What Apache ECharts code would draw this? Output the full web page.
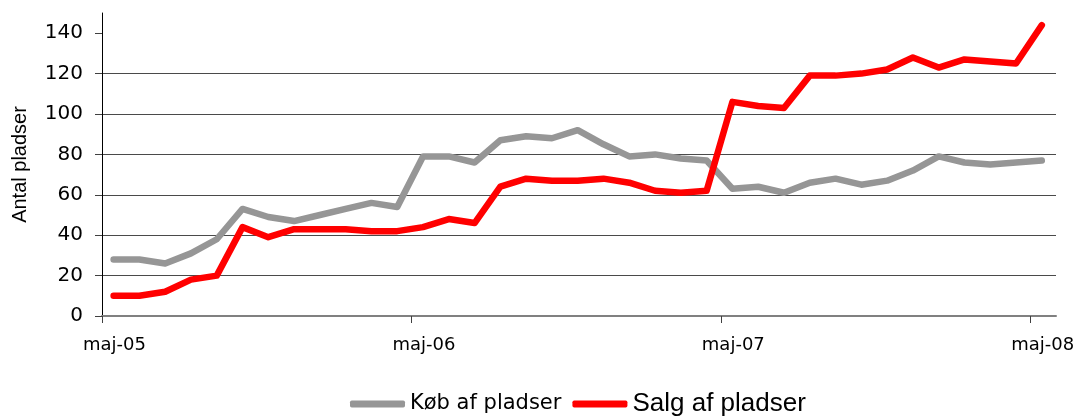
<!DOCTYPE html>
<html>
<head>
<meta charset="utf-8">
<script src="https://cdn.jsdelivr.net/npm/echarts@6/dist/echarts.min.js"></script>
<style>
html,body{margin:0;padding:0;background:#fff;}
#chart{width:1078px;height:416px;}
</style>
</head>
<body>
<div id="chart"></div>
<script>
// Monthly observations, maj-05 .. maj-08
const months = ['2005-05','2005-06','2005-07','2005-08','2005-09','2005-10','2005-11','2005-12',
  '2006-01','2006-02','2006-03','2006-04','2006-05','2006-06','2006-07','2006-08','2006-09','2006-10',
  '2006-11','2006-12','2007-01','2007-02','2007-03','2007-04','2007-05','2007-06','2007-07','2007-08',
  '2007-09','2007-10','2007-11','2007-12','2008-01','2008-02','2008-03','2008-04','2008-05'];
const kob  = [28,28,26,31,38,53,49,47,50,53,56,54,79,79,76,87,89,88,92,85,79,80,78,77,63,64,61,66,68,65,67,72,79,76,75,76,77];
const salg = [10,10,12,18,20,44,39,43,43,43,42,42,44,48,46,64,68,67,67,68,66,62,61,62,106,104,103,119,119,120,122,128,123,127,126,125,144];
const tickLabels = ['maj-05','maj-06','maj-07','maj-08'];
const yTicks = [0,20,40,60,80,100,120,140];
const seriesNames = ['Køb af pladser','Salg af pladser'];

// month index on a continuous axis; observations sit mid-month
const toPoints = vals => vals.map((v, i) => [i + 0.45, v]);
const xTickValues = tickLabels.map((_, i) => i * 12);

const chart = echarts.init(document.getElementById('chart'), null, {renderer: 'canvas'});
chart.setOption({
  animation: false,
  backgroundColor: '#ffffff',
  grid: {left: 102, right: 22, top: 13, bottom: 100, containLabel: false},
  legend: {
    left: 345,
    top: 386,
    itemWidth: 55,
    itemHeight: 7,
    itemGap: 11,
    icon: 'roundRect',
    data: [
      {name: seriesNames[0], textStyle: {fontFamily: 'DejaVu Sans', fontSize: 21, color: '#000'}},
      {name: seriesNames[1], textStyle: {fontFamily: 'Liberation Sans', fontSize: 26, color: '#000'}}
    ]
  },
  xAxis: {
    type: 'value',
    min: 0,
    max: months.length,
    interval: 12,
    axisLine: {show: true, lineStyle: {color: '#808080', width: 2}},
    axisTick: {show: true, length: 7, inside: false, customValues: xTickValues, lineStyle: {color: '#404040'}},
    axisLabel: {
      customValues: xTickValues,
      formatter: v => tickLabels[Math.round(v / 12)],
      fontFamily: 'DejaVu Sans', fontSize: 18, color: '#000',
      margin: 20,
      padding: [0, 0, 0, 25]
    },
    splitLine: {show: false}
  },
  yAxis: {
    type: 'value',
    min: 0,
    max: 150,
    interval: 20,
    name: 'Antal pladser',
    nameLocation: 'middle',
    nameGap: 72,
    nameTextStyle: {fontFamily: 'Liberation Sans', fontSize: 20, color: '#000'},
    axisLine: {show: true, lineStyle: {color: '#000', width: 1}},
    axisTick: {show: true, length: 7, customValues: yTicks, lineStyle: {color: '#404040'}},
    axisLabel: {customValues: yTicks, fontFamily: 'DejaVu Sans', fontSize: 20, color: '#000', margin: 19},
    splitLine: {show: true, showMinLine: false, showMaxLine: false, lineStyle: {color: '#4a4a4a', width: 1}}
  },
  series: [
    {
      name: seriesNames[0], type: 'line', data: toPoints(kob), showSymbol: false, symbol: 'none',
      color: '#969696',
      lineStyle: {color: '#969696', width: 6.5, cap: 'round', join: 'round'}
    },
    {
      name: seriesNames[1], type: 'line', data: toPoints(salg), showSymbol: false, symbol: 'none',
      color: '#ff0000',
      lineStyle: {color: '#ff0000', width: 6.5, cap: 'round', join: 'round'}
    }
  ]
});
</script>
</body>
</html>
